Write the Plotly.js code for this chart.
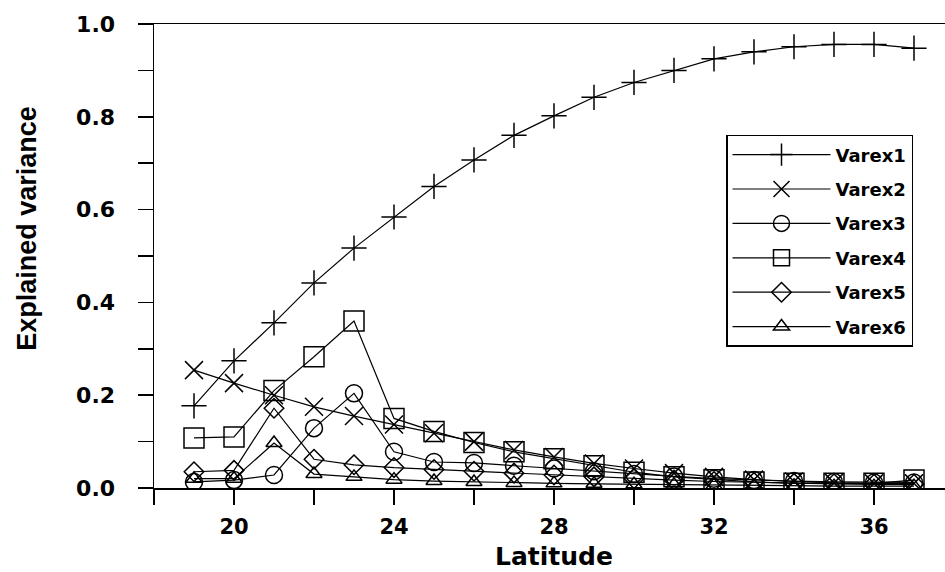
<!DOCTYPE html>
<html>
<head>
<meta charset="utf-8">
<script src="https://cdn.plot.ly/plotly-3.0.1.min.js"></script>
<style>
html,body{margin:0;padding:0;overflow:hidden;background:#fff;}
#chart{width:958px;height:572px;}
</style>
</head>
<body>
<div id="chart"></div>
<script>
const latitude = [19,20,21,22,23,24,25,26,27,28,29,30,31,32,33,34,35,36,37];
const varex1 = [0.177,0.274,0.356,0.442,0.517,0.584,0.650,0.707,0.760,0.802,0.842,0.874,0.900,0.925,0.940,0.951,0.956,0.956,0.948];
const varex2 = [0.254,0.226,0.200,0.175,0.155,0.137,0.118,0.100,0.082,0.067,0.053,0.042,0.032,0.024,0.018,0.014,0.011,0.010,0.010];
const varex3 = [0.013,0.017,0.028,0.129,0.204,0.078,0.056,0.054,0.048,0.042,0.036,0.030,0.025,0.020,0.017,0.015,0.013,0.012,0.012];
const varex4 = [0.108,0.110,0.210,0.283,0.360,0.150,0.122,0.098,0.078,0.063,0.048,0.034,0.024,0.018,0.013,0.010,0.010,0.010,0.017];
const varex5 = [0.035,0.038,0.172,0.062,0.050,0.044,0.040,0.036,0.032,0.028,0.024,0.020,0.017,0.014,0.012,0.010,0.009,0.008,0.008];
const varex6 = [0.020,0.020,0.097,0.030,0.024,0.018,0.015,0.013,0.011,0.010,0.009,0.008,0.007,0.006,0.005,0.005,0.004,0.004,0.004];
const seriesNames = ["Varex1","Varex2","Varex3","Varex4","Varex5","Varex6"];
const xTickVals = [20,24,28,32,36];
const yTickVals = [0,0.2,0.4,0.6,0.8,1.0];
const yTickText = ["0.0","0.2","0.4","0.6","0.8","1.0"];
const xTitle = "Latitude";
const yTitle = "Explained variance";

const allSeries = [varex1,varex2,varex3,varex4,varex5,varex6];
const symbols = ["cross-thin-open","x-thin-open","circle-open","square-open","diamond-open","triangle-up-open"];
const sizes = [18,18,17,20,15,14];

const traces = allSeries.map((ys,i)=>({
  x: latitude, y: ys, name: seriesNames[i], type:'scatter', mode:'lines+markers',
  legendgroup: 'g'+i,
  line:{color:'#000', width:1.2},
  marker:{symbol:symbols[i], size:sizes[i], color:'#000', line:{color:'#000', width:1.5}}
}));

const tickFont = {family:'"DejaVu Sans", Arial, sans-serif', size:22, color:'#000', weight:'bold'};
const xTickFont = {family:'"DejaVu Sans", Arial, sans-serif', size:21, color:'#000', weight:'bold'};

const layout = {
  width:958, height:572,
  margin:{l:154, r:4, t:24, b:84},
  paper_bgcolor:'#fff', plot_bgcolor:'#fff',
  showlegend:true,
  legend:{
    x:0.715, y:0.761, xanchor:'left', yanchor:'top',
    bgcolor:'#fff', bordercolor:'#000', borderwidth:1.5,
    font:{family:'"DejaVu Sans", Arial, sans-serif', size:18, color:'#000', weight:'bold'},
    traceorder:'grouped', tracegroupgap:8, itemwidth:98
  },
  xaxis:{
    range:[18,38], tickvals:xTickVals, ticktext:xTickVals.map(String),
    ticks:'outside', ticklen:15, tickwidth:1.5, tickcolor:'#000',
    minor:{dtick:2, tick0:18, ticks:'outside', ticklen:15, tickwidth:1.5, tickcolor:'#000', showgrid:false},
    showline:true, linecolor:'#000', linewidth:1.5, mirror:true,
    showgrid:false, zeroline:false,
    ticklabelstandoff:4,
    tickfont:xTickFont
  },
  yaxis:{
    range:[0,1], tickvals:yTickVals, ticktext:yTickText,
    ticks:'outside', ticklen:15, tickwidth:1.5, tickcolor:'#000',
    minor:{dtick:0.1, tick0:0, ticks:'outside', ticklen:15, tickwidth:1.5, tickcolor:'#000', showgrid:false},
    showline:true, linecolor:'#000', linewidth:1.5, mirror:false,
    showgrid:false, zeroline:false,
    ticklabelstandoff:18,
    tickfont:tickFont
  },
  annotations:[{
    text:yTitle, textangle:-90, showarrow:false,
    xref:'paper', yref:'paper', x:-0.158, y:0.56, xanchor:'center', yanchor:'middle',
    font:{family:'"Liberation Sans", Arial, sans-serif', size:27, color:'#000', weight:'bold'}
  },{
    text:xTitle, showarrow:false, borderpad:0,
    xref:'paper', yref:'paper', x:0.5, y:-0.180, xanchor:'center', yanchor:'bottom',
    font:{family:'"DejaVu Sans", Arial, sans-serif', size:25, color:'#000', weight:'bold'}
  }]
};

Plotly.newPlot('chart', traces, layout, {displayModeBar:false, staticPlot:true});
</script>
</body>
</html>
